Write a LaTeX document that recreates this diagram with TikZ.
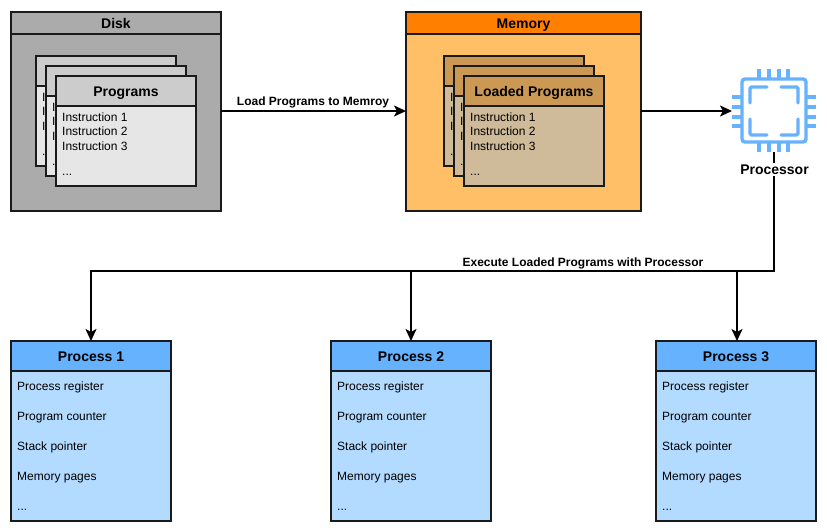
\documentclass[tikz,border=0pt]{standalone}
\usepackage{fontspec}
\setmainfont{Liberation Sans}
\usetikzlibrary{arrows.meta}
\definecolor{diskhead}{HTML}{ABABAB}
\definecolor{diskbody}{HTML}{ABABAB}
\definecolor{proghead}{HTML}{CCCCCC}
\definecolor{progbody}{HTML}{E6E6E6}
\definecolor{memhead}{HTML}{FF8000}
\definecolor{membody}{HTML}{FFBF66}
\definecolor{lphead}{HTML}{CC9955}
\definecolor{lpbody}{HTML}{CFBB99}
\definecolor{prochead}{HTML}{66B2FF}
\definecolor{procbody}{HTML}{B3DAFF}
\definecolor{edgeline}{HTML}{1A1A1A}
\tikzset{
  x=1pt,y=-1pt,
  boxpart/.style={draw=edgeline,line width=2pt,rectangle,inner sep=0pt,outer sep=0pt,text height=11pt,text depth=0pt,font=\fontsize{14}{16}\selectfont\bfseries,text=black},
  rowtext/.style={anchor=base west,inner sep=0pt,yshift=-0.6pt,font=\fontsize{12}{14}\selectfont,text=black},
  linklabel/.style={inner sep=0pt,font=\fontsize{12}{14}\selectfont\bfseries,text=black},
  link/.style={line width=2pt,draw=black},
  linkarrow/.style={link,-{Stealth[length=12pt,width=11pt,inset=3pt]}},
  chip/.style={draw=prochead,line width=3.4pt,line cap=round},
  chippin/.style={chip,line cap=butt},
}
% #1 name, #2 left, #3 top, #4 width, #5 height, #6 header height, #7 header colour, #8 body colour, #9 title
\newcommand{\headedbox}[9]{%
  \node[boxpart,fill=#8,minimum width=#4pt,minimum height=#5pt,anchor=north west] (#1b) at (#2,#3) {};
  \node[boxpart,fill=#7,minimum width=#4pt,minimum height=#6pt,anchor=north west] (#1h) at (#2,#3) {#9};
}
% #1 name, #2 left, #3 top, #4 header colour, #5 body colour, #6 title
\newcommand{\card}[6]{%
  \headedbox{#1}{#2}{#3}{140}{110}{30}{#4}{#5}{#6}
  \node[rowtext] (#1a) at (#2+6,#3+45) {Instruction 1};
  \node[rowtext] (#1c) at (#2+6,#3+59) {Instruction 2};
  \node[rowtext] (#1d) at (#2+6,#3+74) {Instruction 3};
  \node[rowtext] (#1e) at (#2+6,#3+99) {...};
}
% #1 name, #2 left, #3 title
\newcommand{\procbox}[3]{%
  \headedbox{#1}{#2}{341}{160}{180}{30}{prochead}{procbody}{#3}
  \node[rowtext] (#1a) at (#2+6,390) {Process register};
  \node[rowtext] (#1c) at (#2+6,420) {Program counter};
  \node[rowtext] (#1d) at (#2+6,450) {Stack pointer};
  \node[rowtext] (#1e) at (#2+6,480) {Memory pages};
  \node[rowtext] (#1f) at (#2+6,510) {...};
}
\begin{document}
\begin{tikzpicture}
\useasboundingbox (0,0) rectangle (827,532);
\fill[white] (0,0) rectangle (827,532);

\headedbox{disk}{11}{12}{210}{199}{22}{diskhead}{diskbody}{Disk}
\card{pa}{36}{56}{proghead}{progbody}{Programs}
\card{pb}{46}{66}{proghead}{progbody}{Programs}
\card{pc}{56}{76}{proghead}{progbody}{Programs}

\headedbox{mem}{406}{12}{235}{199}{22}{memhead}{membody}{Memory}
\card{la}{444}{56}{lphead}{lpbody}{Loaded Programs}
\card{lb}{454}{66}{lphead}{lpbody}{Loaded Programs}
\card{lc}{464}{76}{lphead}{lpbody}{Loaded Programs}

% processor icon
\node[minimum width=84pt,minimum height=82pt,inner sep=0pt,outer sep=0pt] (cpu) at (774,111) {};
\draw[chip,rounded corners=3pt] (742,79) rectangle (806,142);
\draw[chip,rounded corners=1.5pt] (750,103) -- (750,87) -- (767,87);
\draw[chip,rounded corners=1.5pt] (781,87) -- (798,87) -- (798,103);
\draw[chip,rounded corners=1.5pt] (750,119) -- (750,135) -- (767,135);
\draw[chip,rounded corners=1.5pt] (781,135) -- (798,135) -- (798,119);
\foreach \px in {759,769,779,788} {
  \draw[chippin] (\px,69) -- (\px,79);
  \draw[chippin] (\px,142) -- (\px,152);
}
\foreach \py in {97,107,117,126} {
  \draw[chippin] (732,\py) -- (742,\py);
  \draw[chippin] (806,\py) -- (816,\py);
}

\procbox{pra}{11}{Process 1}
\procbox{prb}{331}{Process 2}
\procbox{prc}{656}{Process 3}

\coordinate (diskout) at (221,111);
\coordinate (memin) at (406,111);
\coordinate (memout) at (641,111);
\coordinate (cpuin) at (732,111);
\coordinate (turn) at (774,271);
\coordinate (tapb) at (prbh.north |- turn);
\coordinate (tapc) at (737,271);
\coordinate (prcin) at (737,341);

\draw[linkarrow] (diskout) -- (memin);
\draw[linkarrow] (memout) -- (cpuin);
\draw[linkarrow] (cpu.south -| turn) -- (turn) -| (prah.north);
\draw[linkarrow] (tapb) -- (prbh.north);
\draw[linkarrow] (tapc) -- (prcin);

\node[linklabel] (loadlabel) at (313,102) {Load Programs to Memroy};
\node[linklabel] (execlabel) at (583,263) {Execute Loaded Programs with Processor};
\node[fill=white,inner sep=1.5pt,font=\fontsize{14}{16}\selectfont\bfseries] (cpulabel) at (774.5,169.5) {Processor};
\end{tikzpicture}
\end{document}
